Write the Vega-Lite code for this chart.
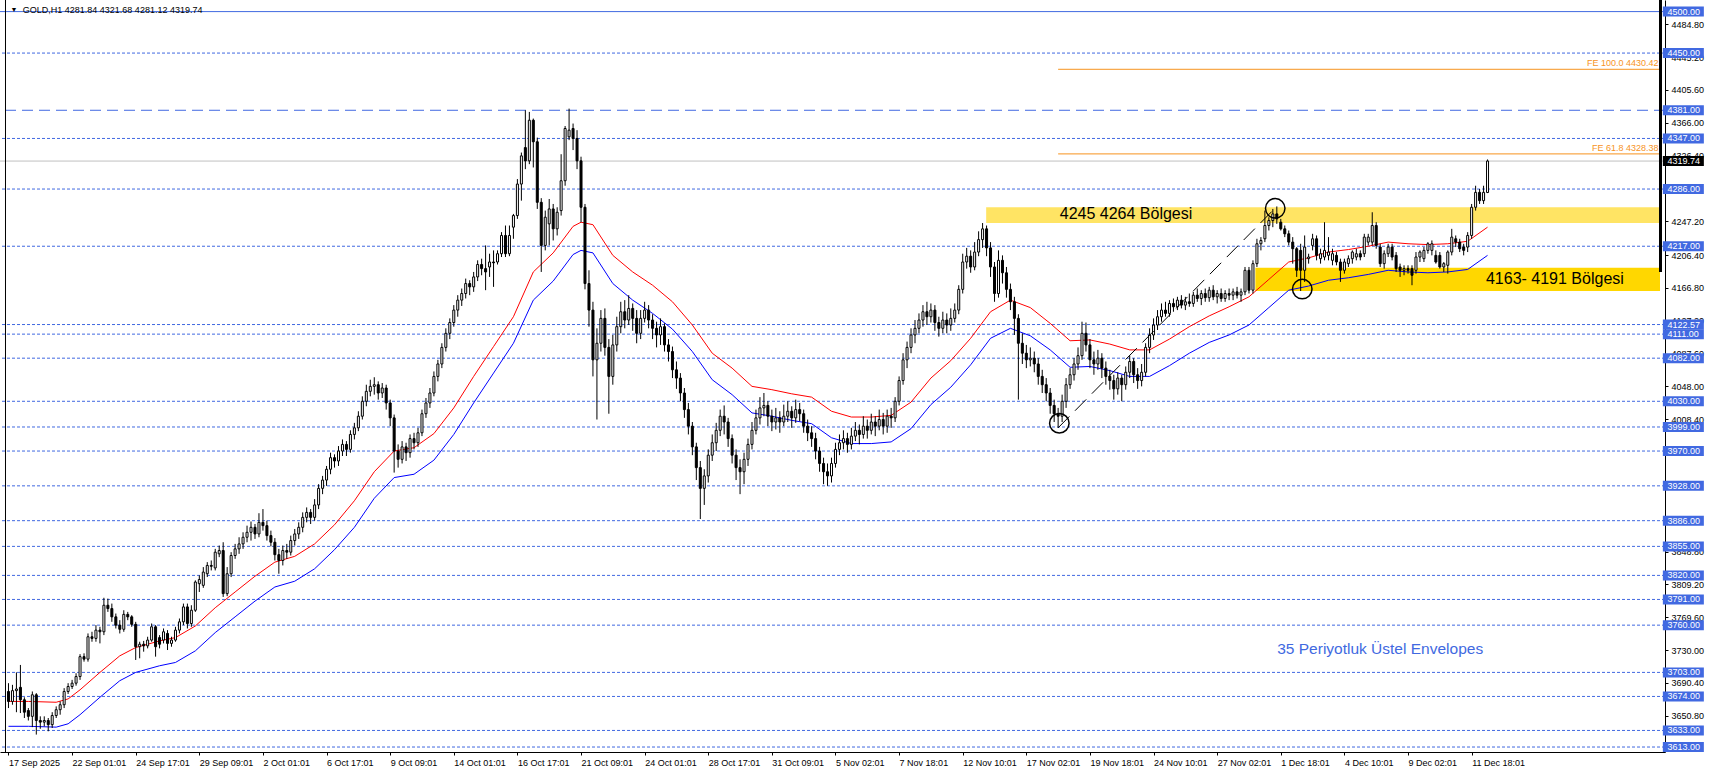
{
"$schema":"https://vega.github.io/schema/vega-lite/v6.json",
"width":1665,"height":752,
"autosize":{"type":"none"},
"padding":{"left":0,"top":0,"right":47,"bottom":21},
"background":"white",
"config":{"view":{"stroke":null},"font":"Liberation Sans"},
"datasets":{
"bars":[
{"t":0,"o":3680,"h":3690,"l":3660,"c":3668},{"t":1,"o":3668,"h":3688,"l":3664,"c":3681},{"t":2,"o":3681,"h":3703,"l":3655,"c":3683},{"t":3,"o":3685,"h":3712,"l":3654,"c":3670},{"t":4,"o":3670,"h":3673,"l":3648,"c":3655},{"t":5,"o":3657,"h":3660,"l":3645,"c":3650},{"t":6,"o":3650,"h":3680,"l":3637,"c":3676},{"t":7,"o":3676,"h":3678,"l":3628,"c":3645},{"t":8,"o":3645,"h":3650,"l":3635,"c":3643},{"t":9,"o":3643,"h":3650,"l":3638,"c":3645},
{"t":10,"o":3645,"h":3648,"l":3632,"c":3640},{"t":11,"o":3640,"h":3655,"l":3636,"c":3651},{"t":12,"o":3651,"h":3662,"l":3648,"c":3658},{"t":13,"o":3658,"h":3668,"l":3652,"c":3664},{"t":14,"o":3664,"h":3684,"l":3660,"c":3680},{"t":15,"o":3680,"h":3690,"l":3677,"c":3686},{"t":16,"o":3686,"h":3694,"l":3683,"c":3690},{"t":17,"o":3690,"h":3702,"l":3687,"c":3698},{"t":18,"o":3698,"h":3725,"l":3694,"c":3722},{"t":19,"o":3722,"h":3726,"l":3716,"c":3719},
{"t":20,"o":3719,"h":3750,"l":3716,"c":3746},{"t":21,"o":3746,"h":3752,"l":3740,"c":3744},{"t":22,"o":3744,"h":3760,"l":3740,"c":3754},{"t":23,"o":3754,"h":3758,"l":3738,"c":3752},{"t":24,"o":3752,"h":3793,"l":3748,"c":3784},{"t":25,"o":3784,"h":3792,"l":3776,"c":3780},{"t":26,"o":3780,"h":3786,"l":3764,"c":3770},{"t":27,"o":3770,"h":3774,"l":3756,"c":3760},{"t":28,"o":3760,"h":3766,"l":3750,"c":3755},{"t":29,"o":3755,"h":3778,"l":3752,"c":3773},
{"t":30,"o":3773,"h":3776,"l":3766,"c":3770},{"t":31,"o":3770,"h":3772,"l":3758,"c":3761},{"t":32,"o":3761,"h":3764,"l":3718,"c":3734},{"t":33,"o":3734,"h":3740,"l":3720,"c":3737},{"t":34,"o":3737,"h":3741,"l":3728,"c":3735},{"t":35,"o":3735,"h":3746,"l":3732,"c":3742},{"t":36,"o":3742,"h":3762,"l":3740,"c":3758},{"t":37,"o":3758,"h":3760,"l":3722,"c":3734},{"t":38,"o":3745,"h":3748,"l":3732,"c":3737},{"t":39,"o":3742,"h":3756,"l":3738,"c":3752},
{"t":40,"o":3750,"h":3754,"l":3730,"c":3738},{"t":41,"o":3738,"h":3746,"l":3734,"c":3742},{"t":42,"o":3742,"h":3758,"l":3740,"c":3754},{"t":43,"o":3754,"h":3768,"l":3750,"c":3764},{"t":44,"o":3764,"h":3786,"l":3760,"c":3782},{"t":45,"o":3782,"h":3786,"l":3756,"c":3762},{"t":46,"o":3762,"h":3784,"l":3758,"c":3778},{"t":47,"o":3778,"h":3814,"l":3776,"c":3812},{"t":48,"o":3810,"h":3820,"l":3800,"c":3815},{"t":49,"o":3808,"h":3830,"l":3805,"c":3824},
{"t":50,"o":3822,"h":3836,"l":3818,"c":3832},{"t":51,"o":3832,"h":3838,"l":3826,"c":3831},{"t":52,"o":3829,"h":3852,"l":3826,"c":3848},{"t":53,"o":3846,"h":3856,"l":3842,"c":3850},{"t":54,"o":3850,"h":3860,"l":3794,"c":3798},{"t":55,"o":3798,"h":3830,"l":3795,"c":3822},{"t":56,"o":3822,"h":3848,"l":3818,"c":3844},{"t":57,"o":3844,"h":3858,"l":3840,"c":3852},{"t":58,"o":3852,"h":3866,"l":3846,"c":3858},{"t":59,"o":3858,"h":3872,"l":3852,"c":3866},
{"t":60,"o":3866,"h":3880,"l":3860,"c":3872},{"t":61,"o":3872,"h":3885,"l":3862,"c":3878},{"t":62,"o":3878,"h":3882,"l":3864,"c":3870},{"t":63,"o":3870,"h":3895,"l":3866,"c":3884},{"t":64,"o":3884,"h":3900,"l":3874,"c":3880},{"t":65,"o":3880,"h":3886,"l":3862,"c":3868},{"t":66,"o":3868,"h":3874,"l":3855,"c":3860},{"t":67,"o":3860,"h":3865,"l":3838,"c":3845},{"t":68,"o":3845,"h":3852,"l":3822,"c":3838},{"t":69,"o":3838,"h":3856,"l":3832,"c":3850},
{"t":70,"o":3850,"h":3858,"l":3840,"c":3848},{"t":71,"o":3848,"h":3868,"l":3844,"c":3862},{"t":72,"o":3862,"h":3876,"l":3856,"c":3870},{"t":73,"o":3870,"h":3884,"l":3864,"c":3878},{"t":74,"o":3878,"h":3896,"l":3872,"c":3890},{"t":75,"o":3890,"h":3902,"l":3884,"c":3896},{"t":76,"o":3896,"h":3900,"l":3882,"c":3890},{"t":77,"o":3890,"h":3912,"l":3886,"c":3905},{"t":78,"o":3905,"h":3930,"l":3900,"c":3925},{"t":79,"o":3925,"h":3940,"l":3918,"c":3935},
{"t":80,"o":3935,"h":3952,"l":3928,"c":3948},{"t":81,"o":3948,"h":3968,"l":3942,"c":3962},{"t":82,"o":3962,"h":3966,"l":3950,"c":3958},{"t":83,"o":3958,"h":3976,"l":3952,"c":3970},{"t":84,"o":3970,"h":3984,"l":3964,"c":3978},{"t":85,"o":3978,"h":3982,"l":3964,"c":3972},{"t":86,"o":3972,"h":3995,"l":3968,"c":3990},{"t":87,"o":3990,"h":4004,"l":3984,"c":3998},{"t":88,"o":3998,"h":4018,"l":3994,"c":4012},{"t":89,"o":4012,"h":4036,"l":4008,"c":4030},
{"t":90,"o":4030,"h":4050,"l":4024,"c":4042},{"t":91,"o":4042,"h":4056,"l":4036,"c":4048},{"t":92,"o":4048,"h":4059,"l":4038,"c":4050},{"t":93,"o":4050,"h":4054,"l":4032,"c":4040},{"t":94,"o":4040,"h":4052,"l":4034,"c":4046},{"t":95,"o":4046,"h":4050,"l":4020,"c":4028},{"t":96,"o":4028,"h":4032,"l":4000,"c":4010},{"t":97,"o":4010,"h":4014,"l":3944,"c":3970},{"t":98,"o":3970,"h":3978,"l":3950,"c":3960},{"t":99,"o":3960,"h":3982,"l":3955,"c":3975},
{"t":100,"o":3975,"h":3980,"l":3958,"c":3968},{"t":101,"o":3968,"h":3990,"l":3962,"c":3985},{"t":102,"o":3985,"h":3992,"l":3972,"c":3980},{"t":103,"o":3980,"h":3998,"l":3975,"c":3992},{"t":104,"o":3992,"h":4020,"l":3988,"c":4015},{"t":105,"o":4015,"h":4034,"l":4010,"c":4028},{"t":106,"o":4028,"h":4046,"l":4022,"c":4040},{"t":107,"o":4040,"h":4066,"l":4036,"c":4060},{"t":108,"o":4060,"h":4080,"l":4054,"c":4075},{"t":109,"o":4075,"h":4100,"l":4070,"c":4095},
{"t":110,"o":4095,"h":4118,"l":4090,"c":4112},{"t":111,"o":4112,"h":4130,"l":4105,"c":4125},{"t":112,"o":4125,"h":4146,"l":4120,"c":4140},{"t":113,"o":4140,"h":4158,"l":4132,"c":4152},{"t":114,"o":4152,"h":4166,"l":4145,"c":4160},{"t":115,"o":4160,"h":4178,"l":4154,"c":4172},{"t":116,"o":4172,"h":4176,"l":4158,"c":4168},{"t":117,"o":4168,"h":4186,"l":4162,"c":4180},{"t":118,"o":4180,"h":4200,"l":4175,"c":4195},{"t":119,"o":4195,"h":4202,"l":4182,"c":4190},
{"t":120,"o":4190,"h":4218,"l":4164,"c":4186},{"t":121,"o":4192,"h":4208,"l":4180,"c":4198},{"t":122,"o":4198,"h":4212,"l":4168,"c":4197},{"t":123,"o":4198,"h":4212,"l":4195,"c":4208},{"t":124,"o":4208,"h":4234,"l":4204,"c":4230},{"t":125,"o":4230,"h":4242,"l":4204,"c":4208},{"t":126,"o":4208,"h":4242,"l":4205,"c":4230},{"t":127,"o":4240,"h":4256,"l":4226,"c":4254},{"t":128,"o":4254,"h":4298,"l":4250,"c":4292},{"t":129,"o":4292,"h":4330,"l":4272,"c":4326},
{"t":130,"o":4336,"h":4381,"l":4310,"c":4320},{"t":131,"o":4320,"h":4379,"l":4316,"c":4369},{"t":132,"o":4369,"h":4371,"l":4312,"c":4343},{"t":133,"o":4343,"h":4348,"l":4262,"c":4270},{"t":134,"o":4270,"h":4275,"l":4186,"c":4218},{"t":135,"o":4218,"h":4260,"l":4212,"c":4252},{"t":136,"o":4244,"h":4274,"l":4218,"c":4262},{"t":137,"o":4262,"h":4268,"l":4224,"c":4238},{"t":138,"o":4238,"h":4264,"l":4230,"c":4258},{"t":139,"o":4260,"h":4328,"l":4254,"c":4296},
{"t":140,"o":4296,"h":4362,"l":4290,"c":4359},{"t":141,"o":4349,"h":4383,"l":4345,"c":4357},{"t":142,"o":4359,"h":4365,"l":4333,"c":4347},{"t":143,"o":4347,"h":4357,"l":4310,"c":4320},{"t":144,"o":4320,"h":4325,"l":4246,"c":4264},{"t":145,"o":4264,"h":4268,"l":4165,"c":4172},{"t":146,"o":4172,"h":4188,"l":4120,"c":4140},{"t":147,"o":4140,"h":4150,"l":4060,"c":4080},{"t":148,"o":4080,"h":4118,"l":4008,"c":4100},{"t":149,"o":4100,"h":4140,"l":4090,"c":4130},
{"t":150,"o":4130,"h":4142,"l":4085,"c":4095},{"t":151,"o":4095,"h":4105,"l":4015,"c":4060},{"t":152,"o":4060,"h":4110,"l":4050,"c":4098},{"t":153,"o":4098,"h":4132,"l":4090,"c":4120},{"t":154,"o":4120,"h":4150,"l":4112,"c":4138},{"t":155,"o":4138,"h":4152,"l":4118,"c":4128},{"t":156,"o":4128,"h":4158,"l":4122,"c":4142},{"t":157,"o":4142,"h":4148,"l":4115,"c":4130},{"t":158,"o":4130,"h":4140,"l":4100,"c":4112},{"t":159,"o":4112,"h":4140,"l":4105,"c":4130},
{"t":160,"o":4130,"h":4150,"l":4125,"c":4140},{"t":161,"o":4140,"h":4146,"l":4118,"c":4128},{"t":162,"o":4128,"h":4135,"l":4105,"c":4118},{"t":163,"o":4118,"h":4126,"l":4095,"c":4110},{"t":164,"o":4110,"h":4130,"l":4098,"c":4120},{"t":165,"o":4120,"h":4124,"l":4090,"c":4098},{"t":166,"o":4098,"h":4105,"l":4078,"c":4090},{"t":167,"o":4090,"h":4096,"l":4058,"c":4068},{"t":168,"o":4068,"h":4078,"l":4045,"c":4058},{"t":169,"o":4058,"h":4064,"l":4030,"c":4040},
{"t":170,"o":4040,"h":4046,"l":4010,"c":4020},{"t":171,"o":4020,"h":4028,"l":3990,"c":4000},{"t":172,"o":4000,"h":4005,"l":3965,"c":3975},{"t":173,"o":3975,"h":3980,"l":3935,"c":3950},{"t":174,"o":3950,"h":3958,"l":3888,"c":3925},{"t":175,"o":3925,"h":3948,"l":3905,"c":3940},{"t":176,"o":3940,"h":3972,"l":3932,"c":3965},{"t":177,"o":3965,"h":3990,"l":3958,"c":3980},{"t":178,"o":3980,"h":4004,"l":3970,"c":3995},{"t":179,"o":3995,"h":4020,"l":3988,"c":4012},
{"t":180,"o":4012,"h":4025,"l":3990,"c":4005},{"t":181,"o":4005,"h":4010,"l":3975,"c":3985},{"t":182,"o":3985,"h":3990,"l":3955,"c":3965},{"t":183,"o":3965,"h":3972,"l":3935,"c":3950},{"t":184,"o":3950,"h":3960,"l":3918,"c":3945},{"t":185,"o":3945,"h":3968,"l":3930,"c":3960},{"t":186,"o":3960,"h":3985,"l":3952,"c":3978},{"t":187,"o":3978,"h":4005,"l":3972,"c":3995},{"t":188,"o":3995,"h":4020,"l":3990,"c":4010},{"t":189,"o":4010,"h":4035,"l":4002,"c":4022},
{"t":190,"o":4022,"h":4040,"l":4012,"c":4025},{"t":191,"o":4025,"h":4030,"l":4000,"c":4012},{"t":192,"o":4012,"h":4020,"l":3994,"c":4005},{"t":193,"o":4005,"h":4022,"l":3996,"c":4010},{"t":194,"o":4010,"h":4018,"l":3992,"c":4005},{"t":195,"o":4005,"h":4026,"l":4000,"c":4012},{"t":196,"o":4012,"h":4030,"l":4005,"c":4018},{"t":197,"o":4018,"h":4024,"l":3998,"c":4010},{"t":198,"o":4010,"h":4032,"l":4004,"c":4020},{"t":199,"o":4020,"h":4028,"l":4006,"c":4015},
{"t":200,"o":4015,"h":4020,"l":3992,"c":4000},{"t":201,"o":4000,"h":4008,"l":3982,"c":3992},{"t":202,"o":3992,"h":4000,"l":3975,"c":3985},{"t":203,"o":3985,"h":3992,"l":3960,"c":3970},{"t":204,"o":3970,"h":3975,"l":3945,"c":3955},{"t":205,"o":3955,"h":3962,"l":3930,"c":3945},{"t":206,"o":3945,"h":3955,"l":3928,"c":3940},{"t":207,"o":3940,"h":3962,"l":3932,"c":3955},{"t":208,"o":3955,"h":3980,"l":3950,"c":3972},{"t":209,"o":3972,"h":3990,"l":3965,"c":3980},
{"t":210,"o":3980,"h":3995,"l":3972,"c":3985},{"t":211,"o":3985,"h":3992,"l":3968,"c":3978},{"t":212,"o":3978,"h":3998,"l":3972,"c":3988},{"t":213,"o":3988,"h":4005,"l":3982,"c":3995},{"t":214,"o":3995,"h":4002,"l":3978,"c":3990},{"t":215,"o":3990,"h":4012,"l":3985,"c":4000},{"t":216,"o":4000,"h":4008,"l":3985,"c":3995},{"t":217,"o":3995,"h":4015,"l":3990,"c":4005},{"t":218,"o":4005,"h":4012,"l":3988,"c":4000},{"t":219,"o":4000,"h":4020,"l":3995,"c":4008},
{"t":220,"o":4008,"h":4016,"l":3990,"c":4000},{"t":221,"o":4000,"h":4020,"l":3992,"c":4012},{"t":222,"o":4012,"h":4022,"l":3998,"c":4010},{"t":223,"o":4010,"h":4035,"l":4005,"c":4030},{"t":224,"o":4030,"h":4060,"l":4025,"c":4055},{"t":225,"o":4055,"h":4088,"l":4050,"c":4080},{"t":226,"o":4080,"h":4102,"l":4070,"c":4095},{"t":227,"o":4095,"h":4118,"l":4088,"c":4110},{"t":228,"o":4110,"h":4128,"l":4100,"c":4118},{"t":229,"o":4118,"h":4136,"l":4112,"c":4128},
{"t":230,"o":4128,"h":4146,"l":4120,"c":4138},{"t":231,"o":4138,"h":4150,"l":4122,"c":4132},{"t":232,"o":4132,"h":4148,"l":4125,"c":4140},{"t":233,"o":4140,"h":4146,"l":4115,"c":4125},{"t":234,"o":4125,"h":4132,"l":4108,"c":4118},{"t":235,"o":4118,"h":4138,"l":4112,"c":4128},{"t":236,"o":4128,"h":4136,"l":4112,"c":4122},{"t":237,"o":4122,"h":4142,"l":4115,"c":4130},{"t":238,"o":4130,"h":4148,"l":4125,"c":4140},{"t":239,"o":4140,"h":4170,"l":4135,"c":4165},
{"t":240,"o":4165,"h":4208,"l":4160,"c":4198},{"t":241,"o":4198,"h":4215,"l":4190,"c":4205},{"t":242,"o":4205,"h":4212,"l":4185,"c":4192},{"t":243,"o":4192,"h":4222,"l":4188,"c":4210},{"t":244,"o":4210,"h":4235,"l":4205,"c":4225},{"t":245,"o":4225,"h":4245,"l":4215,"c":4238},{"t":246,"o":4238,"h":4242,"l":4205,"c":4215},{"t":247,"o":4215,"h":4222,"l":4180,"c":4192},{"t":248,"o":4192,"h":4198,"l":4150,"c":4160},{"t":249,"o":4160,"h":4212,"l":4155,"c":4200},
{"t":250,"o":4200,"h":4206,"l":4172,"c":4185},{"t":251,"o":4185,"h":4192,"l":4155,"c":4165},{"t":252,"o":4165,"h":4172,"l":4140,"c":4150},{"t":253,"o":4150,"h":4156,"l":4110,"c":4130},{"t":254,"o":4130,"h":4135,"l":4032,"c":4100},{"t":255,"o":4100,"h":4112,"l":4075,"c":4088},{"t":256,"o":4088,"h":4098,"l":4070,"c":4080},{"t":257,"o":4080,"h":4095,"l":4072,"c":4082},{"t":258,"o":4082,"h":4090,"l":4065,"c":4075},{"t":259,"o":4075,"h":4082,"l":4050,"c":4060},
{"t":260,"o":4060,"h":4068,"l":4040,"c":4050},{"t":261,"o":4050,"h":4058,"l":4030,"c":4040},{"t":262,"o":4040,"h":4046,"l":4015,"c":4025},{"t":263,"o":4025,"h":4032,"l":4005,"c":4015},{"t":264,"o":4015,"h":4022,"l":3998,"c":4012},{"t":265,"o":4012,"h":4038,"l":4005,"c":4030},{"t":266,"o":4030,"h":4058,"l":4022,"c":4050},{"t":267,"o":4050,"h":4070,"l":4045,"c":4062},{"t":268,"o":4062,"h":4082,"l":4055,"c":4075},{"t":269,"o":4075,"h":4095,"l":4068,"c":4085},
{"t":270,"o":4085,"h":4126,"l":4080,"c":4112},{"t":271,"o":4112,"h":4125,"l":4090,"c":4098},{"t":272,"o":4098,"h":4105,"l":4070,"c":4080},{"t":273,"o":4080,"h":4090,"l":4062,"c":4075},{"t":274,"o":4075,"h":4092,"l":4068,"c":4082},{"t":275,"o":4082,"h":4088,"l":4058,"c":4070},{"t":276,"o":4070,"h":4078,"l":4050,"c":4060},{"t":277,"o":4060,"h":4068,"l":4044,"c":4055},{"t":278,"o":4055,"h":4062,"l":4032,"c":4045},{"t":279,"o":4045,"h":4065,"l":4038,"c":4058},
{"t":280,"o":4058,"h":4062,"l":4030,"c":4050},{"t":281,"o":4050,"h":4072,"l":4044,"c":4065},{"t":282,"o":4065,"h":4085,"l":4058,"c":4078},{"t":283,"o":4078,"h":4082,"l":4052,"c":4062},{"t":284,"o":4062,"h":4070,"l":4045,"c":4055},{"t":285,"o":4055,"h":4075,"l":4048,"c":4065},{"t":286,"o":4065,"h":4100,"l":4060,"c":4095},{"t":287,"o":4095,"h":4118,"l":4088,"c":4110},{"t":288,"o":4110,"h":4130,"l":4104,"c":4122},{"t":289,"o":4122,"h":4140,"l":4116,"c":4132},
{"t":290,"o":4132,"h":4148,"l":4126,"c":4140},{"t":291,"o":4140,"h":4150,"l":4132,"c":4136},{"t":292,"o":4136,"h":4152,"l":4132,"c":4148},{"t":293,"o":4148,"h":4154,"l":4138,"c":4144},{"t":294,"o":4144,"h":4156,"l":4140,"c":4152},{"t":295,"o":4152,"h":4158,"l":4142,"c":4146},{"t":296,"o":4146,"h":4156,"l":4140,"c":4150},{"t":297,"o":4150,"h":4160,"l":4144,"c":4148},{"t":298,"o":4148,"h":4162,"l":4144,"c":4158},{"t":299,"o":4158,"h":4166,"l":4150,"c":4154},
{"t":300,"o":4154,"h":4164,"l":4146,"c":4160},{"t":301,"o":4160,"h":4166,"l":4150,"c":4155},{"t":302,"o":4155,"h":4168,"l":4150,"c":4164},{"t":303,"o":4164,"h":4170,"l":4152,"c":4156},{"t":304,"o":4156,"h":4164,"l":4148,"c":4160},{"t":305,"o":4160,"h":4166,"l":4150,"c":4154},{"t":306,"o":4154,"h":4164,"l":4150,"c":4160},{"t":307,"o":4160,"h":4166,"l":4152,"c":4158},{"t":308,"o":4158,"h":4166,"l":4152,"c":4162},{"t":309,"o":4162,"h":4168,"l":4154,"c":4158},
{"t":310,"o":4158,"h":4166,"l":4150,"c":4162},{"t":311,"o":4162,"h":4192,"l":4158,"c":4188},{"t":312,"o":4188,"h":4192,"l":4160,"c":4164},{"t":313,"o":4164,"h":4200,"l":4160,"c":4196},{"t":314,"o":4196,"h":4226,"l":4192,"c":4220},{"t":315,"o":4220,"h":4228,"l":4212,"c":4224},{"t":316,"o":4226,"h":4260,"l":4222,"c":4242},{"t":317,"o":4242,"h":4252,"l":4236,"c":4248},{"t":318,"o":4248,"h":4262,"l":4240,"c":4256},{"t":319,"o":4256,"h":4265,"l":4244,"c":4250},
{"t":320,"o":4246,"h":4250,"l":4236,"c":4238},{"t":321,"o":4238,"h":4242,"l":4228,"c":4232},{"t":322,"o":4232,"h":4236,"l":4218,"c":4222},{"t":323,"o":4222,"h":4228,"l":4196,"c":4214},{"t":324,"o":4214,"h":4216,"l":4180,"c":4188},{"t":325,"o":4212,"h":4220,"l":4163,"c":4188},{"t":326,"o":4188,"h":4230,"l":4174,"c":4216},{"t":327,"o":4202,"h":4208,"l":4196,"c":4204},{"t":328,"o":4218,"h":4232,"l":4212,"c":4226},{"t":329,"o":4226,"h":4230,"l":4200,"c":4206},
{"t":330,"o":4202,"h":4214,"l":4196,"c":4208},{"t":331,"o":4204,"h":4246,"l":4200,"c":4212},{"t":332,"o":4206,"h":4228,"l":4200,"c":4210},{"t":333,"o":4200,"h":4214,"l":4194,"c":4208},{"t":334,"o":4206,"h":4210,"l":4194,"c":4198},{"t":335,"o":4198,"h":4202,"l":4174,"c":4188},{"t":336,"o":4188,"h":4202,"l":4184,"c":4198},{"t":337,"o":4196,"h":4206,"l":4192,"c":4202},{"t":338,"o":4202,"h":4212,"l":4196,"c":4210},{"t":339,"o":4204,"h":4214,"l":4200,"c":4208},
{"t":340,"o":4208,"h":4212,"l":4200,"c":4204},{"t":341,"o":4208,"h":4232,"l":4204,"c":4228},{"t":342,"o":4222,"h":4232,"l":4218,"c":4228},{"t":343,"o":4222,"h":4258,"l":4218,"c":4242},{"t":344,"o":4242,"h":4246,"l":4214,"c":4218},{"t":345,"o":4216,"h":4220,"l":4192,"c":4196},{"t":346,"o":4196,"h":4212,"l":4190,"c":4208},{"t":347,"o":4208,"h":4220,"l":4204,"c":4216},{"t":348,"o":4216,"h":4220,"l":4200,"c":4204},{"t":349,"o":4206,"h":4210,"l":4186,"c":4190},
{"t":350,"o":4192,"h":4196,"l":4180,"c":4188},{"t":351,"o":4188,"h":4194,"l":4182,"c":4190},{"t":352,"o":4190,"h":4194,"l":4184,"c":4188},{"t":353,"o":4190,"h":4194,"l":4170,"c":4182},{"t":354,"o":4188,"h":4210,"l":4184,"c":4204},{"t":355,"o":4204,"h":4212,"l":4198,"c":4210},{"t":356,"o":4202,"h":4216,"l":4198,"c":4212},{"t":357,"o":4212,"h":4222,"l":4208,"c":4220},{"t":358,"o":4212,"h":4224,"l":4206,"c":4220},{"t":359,"o":4206,"h":4212,"l":4196,"c":4198},
{"t":360,"o":4206,"h":4210,"l":4190,"c":4192},{"t":361,"o":4192,"h":4198,"l":4186,"c":4196},{"t":362,"o":4194,"h":4212,"l":4184,"c":4210},{"t":363,"o":4210,"h":4238,"l":4206,"c":4228},{"t":364,"o":4226,"h":4230,"l":4216,"c":4222},{"t":365,"o":4222,"h":4226,"l":4210,"c":4214},{"t":366,"o":4216,"h":4220,"l":4206,"c":4212},{"t":367,"o":4216,"h":4234,"l":4210,"c":4230},{"t":368,"o":4230,"h":4268,"l":4226,"c":4264},{"t":369,"o":4264,"h":4290,"l":4260,"c":4282},
{"t":370,"o":4282,"h":4286,"l":4268,"c":4272},{"t":371,"o":4272,"h":4290,"l":4268,"c":4282},{"t":372,"o":4281.84,"h":4321.68,"l":4281.12,"c":4319.74}
],
"ma":[
{"t":0,"r":3668,"b":3638},{"t":5,"r":3668,"b":3638},{"t":12,"r":3667,"b":3637},{"t":15,"r":3671,"b":3641},{"t":18,"r":3682,"b":3652},{"t":23,"r":3703,"b":3673},{"t":28,"r":3723,"b":3693},{"t":32,"r":3733,"b":3703},{"t":38,"r":3741,"b":3711},{"t":42,"r":3745,"b":3715},{"t":47,"r":3759,"b":3729},{"t":52,"r":3781,"b":3751},{"t":57,"r":3800,"b":3770},{"t":62,"r":3819,"b":3789},{"t":67,"r":3836,"b":3806},{"t":72,"r":3843,"b":3813},{"t":77,"r":3858,"b":3828},{"t":82,"r":3881,"b":3851},{"t":87,"r":3910,"b":3878},{"t":92,"r":3945,"b":3913},{"t":97,"r":3970,"b":3938},{"t":102,"r":3974,"b":3942},{"t":107,"r":3991,"b":3959},{"t":112,"r":4022,"b":3990},{"t":117,"r":4060,"b":4028},{"t":122,"r":4096,"b":4064},{"t":127,"r":4132,"b":4100},{"t":132,"r":4186,"b":4152},{"t":137,"r":4209,"b":4175},{"t":142,"r":4241,"b":4207},{"t":144,"r":4246,"b":4212},{"t":147,"r":4243,"b":4209},{"t":152,"r":4206,"b":4172},{"t":157,"r":4186,"b":4152},{"t":162,"r":4170,"b":4136},{"t":167,"r":4150,"b":4117},{"t":172,"r":4122,"b":4090},{"t":177,"r":4088,"b":4056},{"t":182,"r":4070,"b":4038},{"t":187,"r":4048,"b":4016},{"t":192,"r":4044,"b":4012},{"t":197,"r":4039,"b":4007},{"t":202,"r":4035,"b":4003},{"t":207,"r":4018,"b":3986},{"t":212,"r":4011,"b":3979},{"t":217,"r":4011,"b":3979},{"t":222,"r":4013,"b":3981},{"t":227,"r":4029,"b":3997},{"t":232,"r":4058,"b":4026},{"t":237,"r":4079,"b":4047},{"t":242,"r":4106,"b":4074},{"t":247,"r":4138,"b":4106},{"t":252,"r":4152,"b":4118},{"t":257,"r":4143,"b":4109},{"t":262,"r":4124,"b":4092},{"t":267,"r":4103,"b":4071},{"t":272,"r":4104,"b":4072},{"t":277,"r":4099,"b":4067},{"t":282,"r":4092,"b":4060},{"t":287,"r":4092,"b":4060},{"t":292,"r":4105,"b":4073},{"t":297,"r":4120,"b":4088},{"t":302,"r":4133,"b":4101},{"t":307,"r":4144,"b":4110},{"t":312,"r":4156,"b":4122},{"t":317,"r":4177,"b":4143},{"t":322,"r":4198,"b":4164},{"t":327,"r":4203,"b":4169},{"t":332,"r":4210,"b":4176},{"t":337,"r":4213,"b":4179},{"t":342,"r":4217,"b":4183},{"t":347,"r":4222,"b":4188},{"t":352,"r":4220,"b":4186},{"t":357,"r":4219,"b":4185},{"t":362,"r":4220,"b":4186},{"t":367,"r":4223,"b":4189},{"t":372,"r":4240,"b":4206}
],
"lvl":[
{"p":4500,"d":"solid"},{"p":4450,"d":"dot"},{"p":4381,"d":"long"},{"p":4347,"d":"dot"},{"p":4286,"d":"dot"},{"p":4217,"d":"dot"},{"p":4122.57,"d":"dot"},{"p":4111,"d":"dot"},{"p":4082,"d":"dot"},{"p":4030,"d":"dot"},{"p":3999,"d":"dot"},{"p":3970,"d":"dot"},{"p":3928,"d":"dot"},{"p":3886,"d":"dot"},{"p":3855,"d":"dot"},{"p":3820,"d":"dot"},{"p":3791,"d":"dot"},{"p":3760,"d":"dot"},{"p":3703,"d":"dot"},{"p":3674,"d":"dot"},{"p":3633,"d":"dot"},{"p":3613,"d":"dot"}
],
"fe":[{"p":4430.42,"n":"FE 100.0 4430.42"},{"p":4328.38,"n":"FE 61.8 4328.38"}],
"trend":[{"t":264,"p":3998},{"t":319,"p":4265}],
"circ":[{"t":264.3,"p":4003.5},{"t":318.6,"p":4262.7},{"t":325.4,"p":4165.3}],
"one":[{}]
},
"layer":[
{"data":{"name":"bars"},"mark":{"type":"rule","color":"black","strokeWidth":1,"opacity":0},
 "encoding":{
  "x":{"field":"t","type":"quantitative","scale":{"domain":[-0.875,415.375],"nice":false,"zero":false},
   "axis":{"values":[0,16,32,48,64,80,96,112,128,144,160,176,192,208,224,240,256,272,288,304,320,336,352,368],
    "labelExpr":"['17 Sep 2025','22 Sep 01:01','24 Sep 17:01','29 Sep 09:01','2 Oct 01:01','6 Oct 17:01','9 Oct 09:01','14 Oct 01:01','16 Oct 17:01','21 Oct 09:01','24 Oct 01:01','28 Oct 17:01','31 Oct 09:01','5 Nov 02:01','7 Nov 18:01','12 Nov 10:01','17 Nov 02:01','19 Nov 18:01','24 Nov 10:01','27 Nov 02:01','1 Dec 18:01','4 Dec 10:01','9 Dec 02:01','11 Dec 18:01'][round(datum.value/16)]",
    "labelAlign":"left","labelBaseline":"top","labelPadding":3,"labelFontSize":9,"labelColor":"black","labelFont":"Liberation Sans",
    "tickColor":"black","tickSize":3,"domainColor":"black","grid":false,"title":null,"labelOverlap":false,"labelBound":false,"labelFlush":false,"orient":"bottom"}},
  "y":{"field":"l","type":"quantitative","scale":{"domain":[3607,4514],"nice":false,"zero":false},
   "axis":{"orient":"right","values":[4484.8,4445.2,4405.6,4366,4326.4,4247.2,4206.4,4166.8,4127.2,4087.6,4048,4008.4,3848.8,3809.2,3769.6,3730,3690.4,3650.8],
    "format":".2f","labelFontSize":9,"labelColor":"black","labelFont":"Liberation Sans","labelPadding":3,"tickSize":3,"tickColor":"black","domainColor":"black","grid":false,"title":null,"labelOverlap":false,"labelBound":false,"labelFlush":false,"labelBaseline":"middle"}},
  "y2":{"field":"h"}}},
{"data":{"name":"one"},"mark":{"type":"rect","color":"#FFE464"},
 "encoding":{"x":{"datum":245.9,"type":"quantitative"},"x2":{"datum":415.375},"y":{"datum":4245,"type":"quantitative"},"y2":{"datum":4264}}},
{"data":{"name":"one"},"mark":{"type":"rect","color":"#FFD700"},
 "encoding":{"x":{"datum":313.6,"type":"quantitative"},"x2":{"datum":415.375},"y":{"datum":4163,"type":"quantitative"},"y2":{"datum":4191}}},
{"data":{"name":"lvl"},"transform":[{"filter":"datum.d == 'dot'"}],"mark":{"type":"rule","color":"#4169E1","strokeWidth":1,"strokeDash":[3,2]},
 "encoding":{"y":{"field":"p","type":"quantitative"}}},
{"data":{"name":"lvl"},"transform":[{"filter":"datum.d == 'solid'"}],"mark":{"type":"rule","color":"#4169E1","strokeWidth":1},
 "encoding":{"y":{"field":"p","type":"quantitative"}}},
{"data":{"name":"lvl"},"transform":[{"filter":"datum.d == 'long'"}],"mark":{"type":"rule","color":"#4169E1","strokeWidth":1,"strokeDash":[11,6]},
 "encoding":{"y":{"field":"p","type":"quantitative"}}},
{"data":{"name":"one"},"mark":{"type":"rule","color":"#C0C0C0","strokeWidth":1},
 "encoding":{"y":{"datum":4319.74,"type":"quantitative"}}},
{"data":{"name":"fe"},"mark":{"type":"rule","color":"#F7931E","strokeWidth":1},
 "encoding":{"x":{"datum":264,"type":"quantitative"},"x2":{"datum":415.375},"y":{"field":"p","type":"quantitative"}}},
{"data":{"name":"fe"},"mark":{"type":"text","color":"#F7931E","fontSize":9,"align":"right","baseline":"bottom","dy":-1},
 "encoding":{"x":{"datum":415,"type":"quantitative"},"y":{"field":"p","type":"quantitative"},"text":{"field":"n"}}},
{"data":{"name":"ma"},"mark":{"type":"line","color":"#FF0000","strokeWidth":1},
 "encoding":{"x":{"field":"t","type":"quantitative"},"y":{"field":"r","type":"quantitative"}}},
{"data":{"name":"ma"},"mark":{"type":"line","color":"#0000FF","strokeWidth":1},
 "encoding":{"x":{"field":"t","type":"quantitative"},"y":{"field":"b","type":"quantitative"}}},
{"data":{"name":"bars"},"mark":{"type":"rule","color":"black","strokeWidth":1},
 "encoding":{"x":{"field":"t","type":"quantitative"},"y":{"field":"l","type":"quantitative"},"y2":{"field":"h"}}},
{"data":{"name":"bars"},"mark":{"type":"bar","width":2,"stroke":"black","strokeWidth":1},
 "encoding":{"x":{"field":"t","type":"quantitative"},"y":{"field":"o","type":"quantitative"},"y2":{"field":"c"},
  "fill":{"condition":{"test":"datum.c >= datum.o","value":"white"},"value":"black"}}},
{"data":{"name":"trend"},"mark":{"type":"line","color":"black","strokeWidth":1,"strokeDash":[16,8]},
 "encoding":{"x":{"field":"t","type":"quantitative"},"y":{"field":"p","type":"quantitative"}}},
{"data":{"name":"circ"},"mark":{"type":"point","shape":"circle","filled":false,"stroke":"black","strokeWidth":1.5,"size":380,"opacity":1},
 "encoding":{"x":{"field":"t","type":"quantitative"},"y":{"field":"p","type":"quantitative"}}},
{"data":{"name":"one"},"mark":{"type":"text","text":"4245 4264 Bölgesi","fontSize":16,"align":"left","baseline":"middle","color":"black"},
 "encoding":{"x":{"datum":264.4,"type":"quantitative"},"y":{"datum":4256,"type":"quantitative"}}},
{"data":{"name":"one"},"mark":{"type":"text","text":"4163- 4191 Bölgesi","fontSize":16,"align":"left","baseline":"middle","color":"black"},
 "encoding":{"x":{"datum":371.6,"type":"quantitative"},"y":{"datum":4177,"type":"quantitative"}}},
{"data":{"name":"one"},"mark":{"type":"text","text":"35 Periyotluk Üstel Envelopes","fontSize":15.5,"align":"left","baseline":"middle","color":"#4169E1"},
 "encoding":{"x":{"datum":319.1,"type":"quantitative"},"y":{"datum":3731,"type":"quantitative"}}},
{"data":{"name":"one"},"mark":{"type":"text","text":"▼","fontSize":7,"align":"left","baseline":"middle","color":"black"},
 "encoding":{"x":{"datum":0.5,"type":"quantitative"},"y":{"datum":4502,"type":"quantitative"}}},
{"data":{"name":"one"},"mark":{"type":"text","text":"GOLD,H1  4281.84 4321.68 4281.12 4319.74","fontSize":9,"align":"left","baseline":"middle","color":"black"},
 "encoding":{"x":{"datum":3.6,"type":"quantitative"},"y":{"datum":4502,"type":"quantitative"}}},
{"data":{"name":"one"},"mark":{"type":"rule","color":"black","strokeWidth":1},
 "encoding":{"x":{"datum":-0.75,"type":"quantitative"}}},
{"data":{"name":"one"},"mark":{"type":"rule","color":"black","strokeWidth":3},
 "encoding":{"x":{"datum":415.5,"type":"quantitative"},"y":{"datum":4514,"type":"quantitative"},"y2":{"datum":4186}}},
{"data":{"name":"lvl"},"mark":{"type":"tick","orient":"horizontal","color":"#4169E1","size":41,"thickness":10,"opacity":1},
 "encoding":{"x":{"datum":421.25,"type":"quantitative"},"y":{"field":"p","type":"quantitative"}}},
{"data":{"name":"lvl"},"mark":{"type":"text","color":"white","fontSize":9,"align":"left","baseline":"middle"},
 "encoding":{"x":{"datum":417.25,"type":"quantitative"},"y":{"field":"p","type":"quantitative"},"text":{"field":"p","type":"quantitative","format":".2f"}}},
{"data":{"name":"one"},"mark":{"type":"tick","orient":"horizontal","color":"black","size":41,"thickness":10,"opacity":1},
 "encoding":{"x":{"datum":421.25,"type":"quantitative"},"y":{"datum":4319.74,"type":"quantitative"}}},
{"data":{"name":"one"},"mark":{"type":"text","text":"4319.74","color":"white","fontSize":9,"align":"left","baseline":"middle"},
 "encoding":{"x":{"datum":417.25,"type":"quantitative"},"y":{"datum":4319.74,"type":"quantitative"}}}
]
}
